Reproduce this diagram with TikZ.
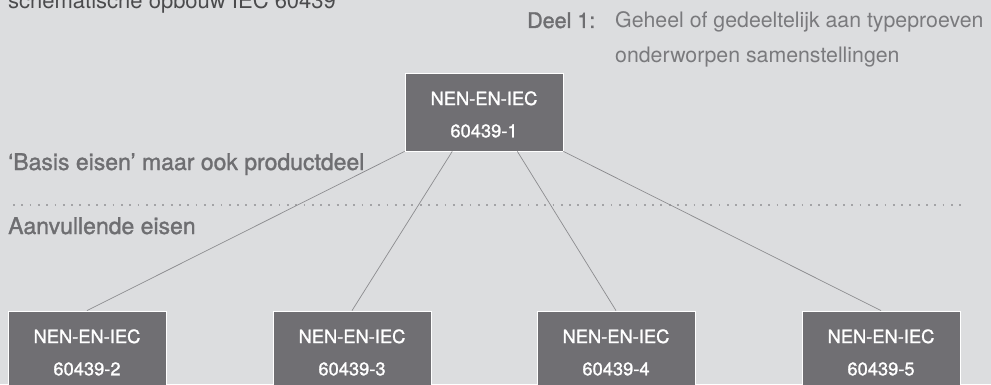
\documentclass[tikz,border=0pt]{standalone}
\usepackage{fontspec}
\setmainfont{TeX Gyre Heros}
\newfontfamily\medfont{TeX Gyre Heros}[FakeBold=1.3]
\usetikzlibrary{calc}
\definecolor{bgc}{HTML}{DCDDDF}
\definecolor{boxc}{HTML}{706F73}
\definecolor{labc}{HTML}{6E6E71}
\definecolor{lightc}{HTML}{7A7A7D}
\definecolor{titlec}{HTML}{4B4B4D}
\definecolor{linec}{HTML}{8C8C8F}
\definecolor{dotc}{HTML}{A3A3A6}
\newcommand\twolines[2]{\parbox[c][78pt][t]{158pt}{\offinterlineskip\centering\rule{0pt}{32pt}#1\par\rule{0pt}{32pt}#2\par}}
\tikzset{
  stdbox/.style={rectangle, fill=boxc, draw=white, line width=0.8pt, inner sep=0pt, text=white,
    font=\medfont\fontsize{18.3}{22}\selectfont},
  conn/.style={draw=linec, line width=0.7pt},
  lab/.style={anchor=base west, inner sep=0pt, text=labc, font=\medfont\fontsize{23}{27}\selectfont},
  lighttxt/.style={anchor=base west, inner sep=0pt, text=lightc, font=\fontsize{21.3}{25}\selectfont},
}
\begin{document}
\begin{tikzpicture}[x=1pt,y=1pt]
\fill[bgc] (0,0) rectangle (991,384);
\useasboundingbox (0,0) rectangle (991,384);
% title
\node[anchor=base west, inner sep=0pt, text=titlec, font=\fontsize{22}{26}\selectfont] (title) at (8,375) {schematische opbouw IEC 60439};
% Deel 1
\node[lab, font=\medfont\fontsize{21.5}{26}\selectfont] (deel) at (527,356) {Deel 1:};
\node[lighttxt] (desc1) at (615,356) {Geheel of gedeeltelijk aan typeproeven};
\node[lighttxt] (desc2) at (615,322) {onderworpen samenstellingen};
% section labels
\node[lab] (basis) at (8,214) {‘Basis eisen’ maar ook productdeel};
\node[lab] (aanv) at (8,150) {Aanvullende eisen};
\coordinate (dl) at (13,179);
\coordinate (dr) at (963,179);
\draw[dotc, line width=1.8pt, dash pattern=on 1.8pt off 6.5pt] (dl) -- (dr);
% boxes
\node[stdbox] (top) at (484,272) {\twolines{NEN-EN-IEC}{60439-1}};
\node[stdbox] (b2) at (87,34) {\twolines{NEN-EN-IEC}{60439-2}};
\node[stdbox] (b3) at (352,34) {\twolines{NEN-EN-IEC}{60439-3}};
\node[stdbox] (b4) at (616,34) {\twolines{NEN-EN-IEC}{60439-4}};
\node[stdbox] (b5) at (881,34) {\twolines{NEN-EN-IEC}{60439-5}};
% connectors
\draw[conn] (top.south west) -- (b2.north);
\draw[conn] ($(top.south west)!0.3!(top.south east)$) -- (b3.north);
\draw[conn] ($(top.south west)!0.71!(top.south east)$) -- (b4.north);
\draw[conn] (top.south east) -- (b5.north);
\end{tikzpicture}
\end{document}
